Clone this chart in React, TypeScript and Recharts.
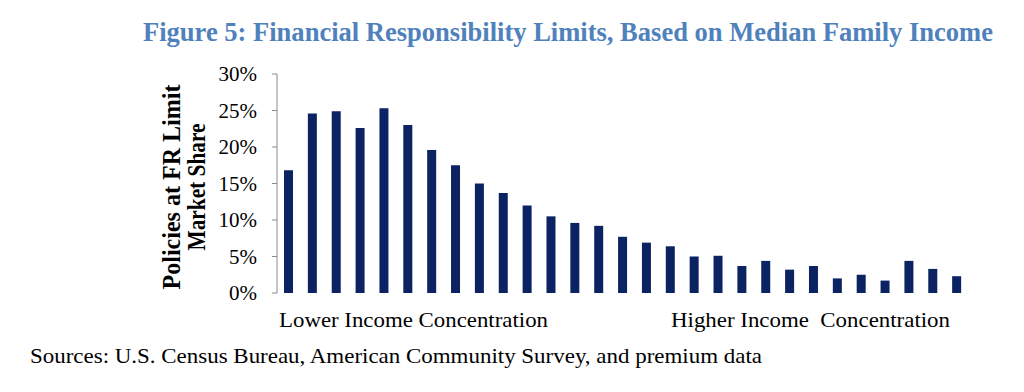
import React from 'react';
import { BarChart, Bar, XAxis, YAxis } from 'recharts';

// income bins, ordered from lower to higher income concentration
const bins = Array.from({ length: 29 }, (_, i) => `Bin ${i + 1}`);

// share of policies written at the FR limit (%)
const shares = [
  16.8, 24.6, 24.9, 22.6, 25.3, 23.0, 19.6, 17.5, 15.0, 13.7,
  12.0, 10.5, 9.6, 9.2, 7.7, 6.9, 6.4, 5.0, 5.1, 3.7,
  4.4, 3.2, 3.7, 2.0, 2.5, 1.7, 4.4, 3.3, 2.3,
];

const yTicks = [0, 5, 10, 15, 20, 25, 30];

const titleText = 'Figure 5: Financial Responsibility Limits, Based on Median Family Income';
const yTitleLines = ['Policies at FR Limit', 'Market Share'];
const lowLabel = 'Lower Income Concentration';
const highLabel = 'Higher Income  Concentration';
const sourceText = 'Sources: U.S. Census Bureau, American Community Survey, and premium data';

const data = bins.map((bin, i) => ({ bin, share: shares[i] }));

const serif = '"Liberation Serif", "Times New Roman", serif';

// rotated axis title: baseline x and squeezed length for each line
const yTitlePos = [
  { x: 180, len: 205 },
  { x: 205, len: 127 },
];

const App: React.FC = () => {
  return (
    <div style={{ position: 'absolute', left: 0, top: 0, width: 1024, height: 392, background: '#fff' }}>
      <BarChart
        width={1024}
        height={392}
        data={data}
        margin={{ top: 74, right: 55, left: 217, bottom: 99 }}
        barCategoryGap={0}
      >
        <XAxis dataKey="bin" hide />
        <YAxis
          width={60}
          domain={[0, 30]}
          ticks={yTicks}
          interval={0}
          tickFormatter={(v: number) => `${v}%`}
          axisLine={{ stroke: '#8a8a8a' }}
          tickLine={{ stroke: '#8a8a8a' }}
          tickSize={5}
          tickMargin={15}
          tick={{ fontSize: 21, fill: '#000', fontFamily: serif }}
        />
        <Bar dataKey="share" fill="#0b2263" barSize={9} isAnimationActive={false} />
      </BarChart>

      <svg
        width={1024}
        height={392}
        style={{ position: 'absolute', left: 0, top: 0, pointerEvents: 'none' }}
      >
        <text
          x={143}
          y={41}
          textLength={850}
          lengthAdjust="spacingAndGlyphs"
          fill="#4f81bd"
          fontFamily={serif}
          fontWeight="bold"
          fontSize={27}
        >
          {titleText}
        </text>
        {yTitleLines.map((line, i) => (
          <text
            key={line}
            x={yTitlePos[i].x}
            y={187}
            transform={`rotate(-90, ${yTitlePos[i].x}, 187)`}
            textAnchor="middle"
            textLength={yTitlePos[i].len}
            lengthAdjust="spacingAndGlyphs"
            fontFamily={serif}
            fontWeight="bold"
            fontSize={25}
            fill="#000"
          >
            {line}
          </text>
        ))}
        <text x={279} y={327} textLength={269} lengthAdjust="spacingAndGlyphs" fontFamily={serif} fontSize={22} fill="#000">
          {lowLabel}
        </text>
        <text x={671} y={327} textLength={279} lengthAdjust="spacingAndGlyphs" fontFamily={serif} fontSize={22} fill="#000" style={{ whiteSpace: 'pre' }}>
          {highLabel}
        </text>
        <text x={30} y={363} textLength={732} lengthAdjust="spacingAndGlyphs" fontFamily={serif} fontSize={22} fill="#000">
          {sourceText}
        </text>
      </svg>
    </div>
  );
};

export default App;
